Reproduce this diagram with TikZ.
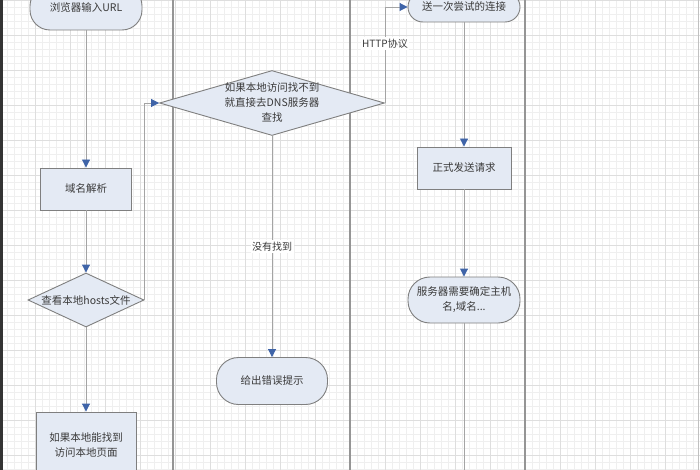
\documentclass[tikz,border=0pt]{standalone}
\usepackage{fontspec}
\newfontfamily\cjk{Noto Sans CJK SC}
\usetikzlibrary{arrows.meta,positioning,shapes.geometric}
\definecolor{lane}{HTML}{959595}
\definecolor{wire}{HTML}{A4A4A4}
\definecolor{boxfill}{HTML}{E4EAF4}
\definecolor{boxline}{HTML}{7F7F7F}
\definecolor{arr}{HTML}{3F64A8}
\definecolor{txt}{HTML}{3A3A3A}
\definecolor{gridmin}{HTML}{EFEFEF}
\definecolor{gridmaj}{HTML}{DEDEDE}

\begin{document}
\begin{tikzpicture}[x=1pt,y=-1pt,
  dtext/.style={text=txt,font=\cjk\fontsize{10.5}{15}\selectfont,align=center},
  box/.style={dtext,draw=boxline,fill=boxfill,line width=0.9pt,inner sep=0pt},
  term/.style={box,rounded corners=20pt},
  dia/.style={box,diamond},
  flow/.style={draw=wire,line width=0.9pt,-{Triangle[length=8pt,width=8pt,color=arr]}},
  plain/.style={draw=wire,line width=0.9pt},
  tag/.style={text=txt,font=\cjk\fontsize{10}{12}\selectfont,fill=white,inner sep=1.5pt}]
 \useasboundingbox (0,0) rectangle (700,470);
 \fill[white] (0,0) rectangle (700,470);
 \draw[gridmin,line width=0.4pt,step=7pt] (0,0) grid (700,470);
 \draw[gridmaj,line width=0.5pt,step=35pt] (0,0) grid (700,470);
 % swimlanes
 \draw[lane,line width=1.3pt] (173,0)--(173,470) (350,0)--(350,470) (525,0)--(525,470);
 \draw[lane!60,line width=1pt] (698,0)--(698,470);
 \draw[black!80,line width=3pt] (1.5,0)--(1.5,470);
 % first lane
 \node[term,minimum width=112pt,minimum height=44pt] (url) at (86,8) {浏览器输入URL};
 \node[box,minimum width=91pt,minimum height=42pt] (parse) at (86,189) {域名解析};
 \node[dia,minimum width=116pt,minimum height=54pt,label={[dtext]center:查看本地hosts文件}] (hosts) at (86,300) {};
 \node[box,minimum width=100pt,minimum height=66pt] (local) at (86,445) {如果本地能找到\\访问本地页面};
 % second lane
 \node[dia,minimum width=225pt,minimum height=65pt,label={[dtext]center:{如果本地访问找不到\\就直接去DNS服务器\\查找}}] (dns) at (272,103) {};
 \node[term,minimum width=111pt,minimum height=47pt,rounded corners=22pt] (err) at (272,381) {给出错误提示};
 % third lane
 \node[term,minimum width=112pt,minimum height=30pt,rounded corners=15pt] (conn) at (464,7) {送一次尝试的连接};
 \node[box,minimum width=94pt,minimum height=42pt] (req) at (464,168) {正式发送请求};
 \node[term,minimum width=112pt,minimum height=46pt,rounded corners=22pt] (srv) at (464,300) {服务器需要确定主机\\名,域名...};
 \coordinate (srvend) at (464,470);
 % connectors
 \draw[flow] (url)--(parse);
 \draw[flow] (parse)--(hosts);
 \draw[flow] (hosts)--(local);
 \draw[flow] (hosts.east)--(hosts.east |- dns.west)--(dns.west);
 \draw[flow] (dns)--node[tag]{没有找到}(err);
 \draw[flow] (dns.east)--node[tag,pos=0.62]{HTTP协议}(dns.east |- conn.west)--(conn.west);
 \draw[flow] (conn)--(req);
 \draw[flow] (req)--(srv);
 \draw[plain] (srv)--(srvend);
\end{tikzpicture}
\end{document}
